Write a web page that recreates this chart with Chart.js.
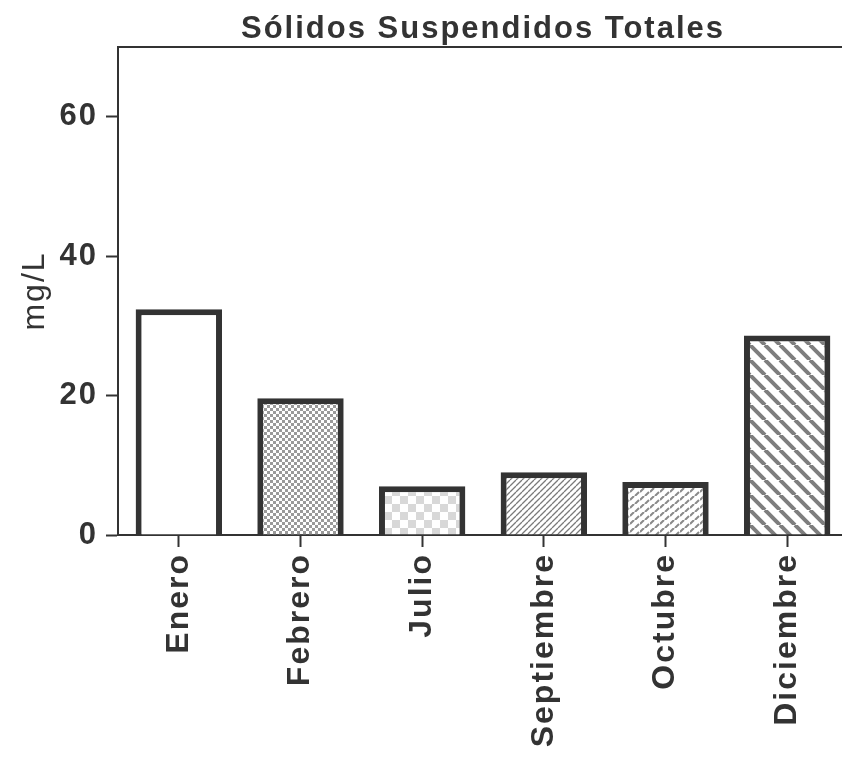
<!DOCTYPE html>
<html>
<head>
<meta charset="utf-8">
<script src="https://cdn.jsdelivr.net/npm/chart.js@4.4.1/dist/chart.umd.min.js"></script>
<style>
  html, body { margin: 0; padding: 0; background: #fff; overflow: hidden; }
  #wrap { width: 848px; height: 759px; }
</style>
</head>
<body>
<div id="wrap"><canvas id="sst" width="848" height="759"></canvas></div>
<script>
  // Sólidos suspendidos totales por mes (mg/L)
  var months = ['Enero', 'Febrero', 'Julio', 'Septiembre', 'Octubre', 'Diciembre'];
  var sstValues = [32.4, 19.6, 7.0, 9.0, 7.6, 28.6];
  var yTicks = [0, 20, 40, 60];
  var fills = ['blank', 'fineCheck', 'paleCheck', 'thinDiag', 'dashDiag', 'wideDiag'];

  var INK = '#333333';

  function tile(w, h, paint) {
    var c = document.createElement('canvas');
    c.width = w;
    c.height = h;
    var g = c.getContext('2d');
    g.fillStyle = '#ffffff';
    g.fillRect(0, 0, w, h);
    paint(g, w, h);
    return document.getElementById('sst').getContext('2d').createPattern(c, 'repeat');
  }

  function diag(g, s, dir, width, color) {
    g.strokeStyle = color;
    g.lineWidth = width;
    g.beginPath();
    for (var k = -1; k <= 1; k++) {
      if (dir > 0) { // "/"
        g.moveTo(k * s, s);
        g.lineTo(k * s + s, 0);
      } else {       // "\"
        g.moveTo(k * s, 0);
        g.lineTo(k * s + s, s);
      }
    }
    g.stroke();
  }

  var patterns = {
    blank: '#ffffff',
    fineCheck: tile(6, 6, function(g) {
      g.fillStyle = '#9a9a9a';
      g.fillRect(0, 0, 3, 3);
      g.fillRect(3, 3, 3, 3);
    }),
    paleCheck: tile(16, 16, function(g) {
      g.fillStyle = '#d8d8d8';
      g.fillRect(0, 0, 8, 8);
      g.fillRect(8, 8, 8, 8);
    }),
    thinDiag: tile(6, 6, function(g, w) {
      diag(g, w, 1, 1.3, '#7a7a7a');
    }),
    dashDiag: tile(10, 8, function(g) {
      g.strokeStyle = '#8a8a8a';
      g.lineWidth = 2;
      g.beginPath();
      g.moveTo(0, 4); g.lineTo(4, 0);
      g.moveTo(5, 8); g.lineTo(9, 4);
      g.stroke();
    }),
    wideDiag: tile(15, 15, function(g, w) {
      diag(g, w, -1, 4, '#7e7e7e');
    })
  };

  // spaced-out lettering for every label on the canvas
  var spacing = {
    id: 'spacing',
    beforeDraw: function(chart) {
      chart.ctx.letterSpacing = '2px';
    }
  };

  var frameTop = {
    id: 'frameTop',
    afterDraw: function(chart) {
      var ctx = chart.ctx;
      var a = chart.chartArea;
      ctx.save();
      ctx.strokeStyle = INK;
      ctx.lineWidth = 2;
      ctx.beginPath();
      ctx.moveTo(a.left - 1, a.top);
      ctx.lineTo(chart.width, a.top);
      ctx.stroke();
      ctx.restore();
    }
  };

  Chart.defaults.font.family = "'Liberation Sans', Arial, sans-serif";
  Chart.defaults.color = INK;

  new Chart(document.getElementById('sst'), {
    type: 'bar',
    data: {
      labels: months,
      datasets: [{
        data: sstValues,
        backgroundColor: fills.map(function(f) { return patterns[f]; }),
        borderColor: INK,
        borderWidth: 6,
        borderSkipped: 'start',
        barPercentage: 0.71,
        categoryPercentage: 1
      }]
    },
    options: {
      responsive: false,
      animation: false,
      layout: { padding: 0 },
      plugins: {
        legend: { display: false },
        tooltip: { enabled: false },
        title: {
          display: true,
          fullSize: false,
          text: 'Sólidos Suspendidos Totales',
          color: INK,
          font: { size: 31, weight: 'bold', lineHeight: 1.0 },
          padding: { top: 14, bottom: 2 }
        }
      },
      scales: {
        x: {
          offset: true,
          grid: {
            offset: false,
            drawOnChartArea: false,
            drawTicks: true,
            tickLength: 12,
            tickWidth: 2,
            color: INK
          },
          border: { display: true, color: INK, width: 2 },
          ticks: {
            minRotation: 90,
            maxRotation: 90,
            autoSkip: false,
            padding: 6,
            color: INK,
            font: { size: 32, weight: 'bold' }
          },
          afterFit: function(scale) { scale.height = 224; }
        },
        y: {
          min: 0,
          max: 70,
          grid: {
            drawOnChartArea: false,
            drawTicks: true,
            tickLength: 12,
            tickWidth: 2,
            color: INK
          },
          border: { display: true, color: INK, width: 2 },
          ticks: {
            padding: 8,
            color: INK,
            font: { size: 31, weight: 'bold' }
          },
          afterBuildTicks: function(scale) {
            scale.ticks = yTicks.map(function(v) { return { value: v }; });
          },
          afterFit: function(scale) { scale.width = 118; },
          title: {
            display: true,
            text: 'mg/L',
            color: INK,
            font: { size: 32 },
            padding: { top: 16, bottom: 0 }
          }
        }
      }
    },
    plugins: [spacing, frameTop]
  });
</script>
</body>
</html>
